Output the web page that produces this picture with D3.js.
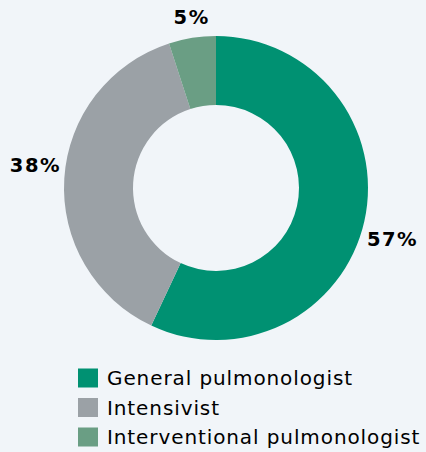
<!DOCTYPE html>
<meta charset="utf-8">
<script src="https://d3js.org/d3.v7.min.js"></script>
<style>
    body { margin: 0; background: #f1f5f9; }
    svg { display: block; }
    .pct { font: bold 19.5px "DejaVu Sans", Verdana, sans-serif; fill: #000; letter-spacing: 1.5px; }
    .legend text { font: 20px "DejaVu Sans", Verdana, sans-serif; fill: #000; letter-spacing: 0.9px; }
</style>
<body>
<div id="chart"></div>
<script>
    // data
    var categories = ["General pulmonologist", "Intensivist", "Interventional pulmonologist"];
    var values = [57, 38, 5];
    var colors = ["#009172", "#9ba1a6", "#6a9e84"];

    const width = 426;
    const height = 452;
    const cx = 216, cy = 188;
    const outerR = 152, innerR = 83;

    var svg = d3.select("#chart").append("svg")
        .attr("width", width)
        .attr("height", height);

    var color = d3.scaleOrdinal().domain(categories).range(colors);

    var pie = d3.pie().sort(null).value(d => d.value);
    var data = categories.map((c, i) => ({ name: c, value: values[i] }));
    var arcs = pie(data);

    var arc = d3.arc().innerRadius(innerR).outerRadius(outerR);

    var g = svg.append("g").attr("transform", `translate(${cx},${cy})`);

    g.selectAll("path.slice")
        .data(arcs)
        .join("path")
        .attr("class", "slice")
        .attr("d", arc)
        .attr("fill", d => color(d.data.name));

    // labels sit a bit further out (and turned a little clockwise) on the sides
    function labelPos(d) {
        var a = (d.startAngle + d.endAngle) / 2;
        var s = Math.abs(Math.sin(a));
        var r = 171 + 12 * s;
        a += 0.062 * s;
        return [r * Math.sin(a), -r * Math.cos(a)];
    }

    g.selectAll("text.pct")
        .data(arcs)
        .join("text")
        .attr("class", "pct")
        .attr("transform", d => {
            var p = labelPos(d);
            return `translate(${p[0] + 1},${p[1]})`;
        })
        .attr("text-anchor", "middle")
        .attr("dy", "0.36em")
        .text(d => d.data.value + "%");

    // legend
    var legendY = d3.scalePoint().domain(categories).range([378, 437]);

    var legend = svg.append("g").attr("class", "legend")
        .selectAll("g")
        .data(categories)
        .join("g")
        .attr("transform", d => `translate(78,${legendY(d)})`);

    legend.append("rect")
        .attr("x", 0)
        .attr("y", -9.5)
        .attr("width", 20)
        .attr("height", 19)
        .attr("fill", d => color(d));

    legend.append("text")
        .attr("x", 29)
        .attr("y", 0)
        .attr("dy", "0.36em")
        .text(d => d);
</script>
</body>
